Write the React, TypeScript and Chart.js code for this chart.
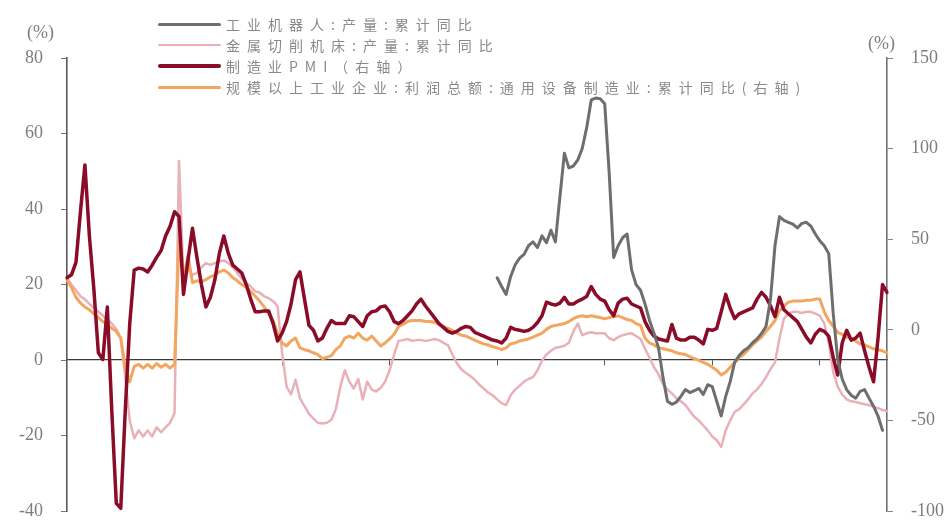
import React, { useEffect, useRef } from "react";
import Chart from "chart.js/auto";

// Monthly categories, 2008-01 .. 2023-04
const startYear = 2008;
const monthCount = 184;
const months: string[] = [];
for (let i = 0; i < monthCount; i++) {
  const y = startYear + Math.floor(i / 12);
  const m = (i % 12) + 1;
  months.push(`${y}-${String(m).padStart(2, "0")}`);
}

const seriesNames = [
  "工业机器人:产量:累计同比",
  "金属切削机床:产量:累计同比",
  "制造业PMI（右轴）",
  "规模以上工业企业:利润总额:通用设备制造业:累计同比(右轴)",
];

const seriesColors = ["#6e6e6e", "#e9b0b8", "#8a0c28", "#f2a660"];
const seriesWidths = [3, 2.5, 3.5, 3];

// Left axis (%)
const leftTicks = [80, 60, 40, 20, 0, -20, -40];
// Right axis (%)
const rightTicks = [150, 100, 50, 0, -50, -100];

// 工业机器人:产量:累计同比 — from 2016-01 to 2023-03 (left axis)
const robotOutput: (number | null)[] = [
  21.8, 19.5, 17.4, 22.1, 25.2, 27.0, 28.0, 30.3, 31.3, 29.8, 32.9, 31.1,
  34.4, 31.3, 43.2, 54.8, 50.9, 51.4, 53.0, 56.1, 61.7, 68.9, 69.4, 69.2,
  67.9, 49.6, 27.2, 30.3, 32.4, 33.4, 23.9, 20.0, 18.5, 14.9, 10.5, 7.1,
  3.3, -4.5, -10.9, -11.7, -11.1, -9.6, -7.8, -8.6, -8.1, -7.5, -9.1, -6.5,
  -7.0, -10.9, -14.8, -9.6, -5.7, -0.6, 1.2, 2.5, 3.3, 4.6, 5.6, 7.1,
  8.9, 16.1, 30.3, 38.0, 37.0, 36.5, 36.0, 35.0, 36.2, 36.5, 35.5, 33.4,
  31.6, 30.3, 28.2, 12.3, 0.2, -5.0, -7.8, -9.3, -10.1, -8.3, -7.8, -10.1,
  -12.2, -14.8, -18.6, null,
];
const robotStartIndex = 96;

// 金属切削机床:产量:累计同比 (left axis)
const machineToolOutput = [
  21.6, 20.0, 18.5, 16.9, 16.1, 14.9, 13.8, 12.8, 11.8, 10.7, 9.7, 8.2,
  5.8, -4.5, -16.0, -20.7, -18.6, -20.2, -18.6, -20.2, -17.8, -19.1, -17.8, -16.6,
  -14.0, 52.7, 21.3, 23.9, 22.6, 23.1, 24.6, 25.7, 25.2, 25.7, 26.2, 26.4,
  25.7, 24.6, 23.1, 21.6, 20.5, 19.5, 18.2, 17.9, 16.9, 16.4, 15.6, 14.3,
  2.0, -7.0, -9.1, -5.2, -10.1, -12.2, -14.2, -15.5, -16.6, -16.8, -16.6, -15.8,
  -13.0, -7.0, -2.7, -5.7, -7.5, -5.0, -10.4, -5.7, -7.8, -8.3, -7.3, -5.7,
  -2.7, 1.5, 5.1, 5.3, 5.6, 5.1, 5.3, 5.3, 5.1, 5.3, 5.6, 5.3,
  4.6, 4.0, 1.5, -0.8, -2.4, -3.4, -4.2, -5.2, -6.5, -7.5, -8.6, -9.3,
  -10.4, -11.4, -11.9, -9.3, -7.8, -6.8, -5.7, -5.0, -4.5, -2.7, -0.1, 1.5,
  2.5, 3.3, 3.5, 3.8, 4.6, 7.6, 9.7, 6.6, 7.1, 7.4, 7.1, 7.1,
  7.1, 5.8, 5.3, 6.1, 6.6, 6.9, 7.1, 6.4, 5.6, 3.0, 0.7, -1.9,
  -3.7, -6.3, -7.8, -8.8, -10.1, -10.9, -11.9, -13.5, -15.0, -16.0, -17.3, -18.6,
  -20.2, -21.2, -23.0, -18.6, -16.0, -13.7, -13.0, -11.7, -10.4, -8.8, -7.8, -6.3,
  -4.5, -2.4, -0.6, 5.8, 11.0, 12.3, 12.8, 12.8, 12.5, 12.8, 12.8, 12.3,
  11.8, 9.7, 4.6, -3.2, -7.0, -9.1, -10.4, -10.9, -11.1, -11.4, -11.7, -11.9,
  -12.4, -12.7, -13.2, -13.5,
];

// 制造业PMI (right axis)
const pmiSeries = [
  28.8, 30.4, 37.3, 65.2, 91.0, 51.8, 22.3, -12.6, -16.3, 12.7, -44.7, -95.7,
  -98.4, -44.7, 3.5, 33.0, 34.1, 33.6, 32.0, 35.7, 40.0, 43.8, 51.8, 57.2,
  65.2, 62.6, 19.6, 38.4, 56.1, 40.0, 25.0, 12.7, 18.0, 27.7, 42.2, 51.8,
  42.2, 35.7, 33.6, 31.4, 25.0, 17.0, 10.0, 10.0, 10.5, 10.5, 3.5, -6.1,
  -1.8, 4.6, 14.3, 27.7, 32.0, 17.0, 2.5, -0.2, -6.1, -4.5, 0.9, 5.2,
  3.5, 3.5, 3.5, 7.8, 7.3, 4.6, 1.9, 7.8, 10.0, 10.5, 12.7, 13.2,
  10.0, 4.6, 3.5, 5.2, 7.8, 10.5, 14.3, 17.0, 13.2, 10.0, 6.8, 3.5,
  1.4, -0.8, -1.8, -0.8, 0.9, 1.9, 1.4, -1.3, -2.4, -3.4, -4.5, -5.6,
  -6.1, -7.2, -4.5, 1.4, 0.3, -0.2, -0.8, -0.2, 1.4, 4.1, 7.8, 15.3,
  14.3, 13.7, 14.8, 18.0, 14.3, 14.3, 15.9, 17.0, 18.6, 23.9, 19.6, 17.0,
  15.9, 11.1, 7.8, 14.8, 17.0, 17.5, 14.3, 13.2, 12.1, 4.6, -0.2, -3.4,
  -5.0, -5.6, -6.1, 3.0, -4.5, -5.6, -5.6, -4.0, -4.0, -5.6, -7.7, 0.3,
  -0.2, 0.9, 10.0, 19.6, 12.1, 6.2, 8.9, 10.0, 11.1, 12.1, 17.0, 20.7,
  18.0, 13.2, 7.3, 18.0, 11.1, 8.9, 6.8, 4.6, 0.3, -4.0, -7.2, -2.4,
  0.3, -0.8, -3.4, -15.2, -24.9, -7.2, -0.2, -5.6, -4.5, -1.8, -11.5, -20.6,
  -28.6, -4.5, 25.0, 20.7,
];

// 通用设备制造业利润总额累计同比 (right axis)
const equipmentProfit = [
  27.7, 23.4, 18.0, 14.8, 12.7, 11.1, 8.9, 6.8, 4.6, 3.0, 0.9, -0.8,
  -4.5, -20.6, -28.6, -20.1, -19.0, -21.1, -19.0, -21.1, -18.5, -20.6, -19.0, -21.1,
  -19.0, 49.1, 27.7, 41.1, 26.1, 27.1, 26.6, 27.7, 29.3, 30.4, 32.0, 33.0,
  31.4, 28.8, 27.1, 25.0, 23.4, 21.2, 18.6, 15.9, 12.7, 8.9, 5.2, -1.8,
  -7.2, -8.8, -6.1, -4.5, -9.9, -10.9, -11.5, -12.6, -13.6, -15.8, -15.2, -14.2,
  -10.9, -8.8, -4.5, -3.4, -4.5, -1.8, -4.5, -5.6, -3.4, -6.1, -8.8, -7.2,
  -5.0, -2.4, 1.9, 3.0, 4.6, 5.2, 5.2, 5.2, 4.6, 4.6, 4.1, 3.0,
  1.9, 0.9, -0.2, -1.8, -2.9, -3.4, -4.5, -5.6, -6.7, -7.7, -8.3, -9.3,
  -9.9, -10.9, -9.9, -7.7, -7.2, -6.1, -5.6, -5.0, -4.0, -2.9, -1.8, 0.3,
  1.9, 2.5, 3.0, 3.5, 4.6, 6.2, 7.3, 7.8, 7.3, 7.8, 7.3, 6.8,
  6.2, 6.8, 7.3, 7.8, 6.8, 5.7, 5.2, 3.5, 2.5, -4.5, -7.2, -8.3,
  -9.9, -10.4, -10.9, -11.5, -12.6, -13.1, -13.6, -14.7, -15.8, -16.8, -17.9, -19.0,
  -20.6, -22.2, -24.9, -23.3, -20.6, -17.9, -15.2, -13.6, -10.9, -8.3, -6.1, -4.0,
  -0.8, 1.9, 5.2, 10.5, 13.2, 15.3, 15.9, 15.9, 15.9, 16.4, 16.4, 17.0,
  17.0, 10.0, 5.2, 1.9, -1.3, -2.4, -4.0, -5.0, -6.1, -7.7, -8.3, -9.3,
  -10.4, -10.9, -11.5, -12.6,
];

const robotSeries: (number | null)[] = new Array(robotStartIndex)
  .fill(null)
  .concat(robotOutput);

const serifFont = "'Liberation Serif', 'DejaVu Serif', 'Times New Roman', serif";
const cjkFont = "'Noto Sans CJK SC', 'Noto Sans', sans-serif";

export default function App() {
  const canvasRef = useRef<HTMLCanvasElement | null>(null);

  useEffect(() => {
    const canvas = canvasRef.current;
    if (!canvas) return;
    const chart = new Chart(canvas, {
      type: "line",
      data: {
        labels: months,
        datasets: [
          {
            label: seriesNames[0],
            data: robotSeries,
            yAxisID: "y",
            borderColor: seriesColors[0],
            borderWidth: seriesWidths[0],
            order: 0,
          },
          {
            label: seriesNames[1],
            data: machineToolOutput,
            yAxisID: "y",
            borderColor: seriesColors[1],
            borderWidth: seriesWidths[1],
            order: 3,
          },
          {
            label: seriesNames[2],
            data: pmiSeries,
            yAxisID: "y1",
            borderColor: seriesColors[2],
            borderWidth: seriesWidths[2],
            order: 1,
          },
          {
            label: seriesNames[3],
            data: equipmentProfit,
            yAxisID: "y1",
            borderColor: seriesColors[3],
            borderWidth: seriesWidths[3],
            order: 2,
          },
        ],
      },
      options: {
        animation: false,
        responsive: false,
        devicePixelRatio: 1,
        layout: { padding: { top: 58, bottom: 16, left: 0, right: 0 } },
        plugins: {
          legend: { display: false },
          tooltip: { enabled: false },
        },
        elements: {
          point: { radius: 0, hoverRadius: 0 },
          line: {
            tension: 0,
            fill: false,
            borderJoinStyle: "round",
            borderCapStyle: "round",
            spanGaps: false,
          },
        },
        scales: {
          x: {
            type: "category",
            position: { y: 0 },
            ticks: { display: false },
            grid: {
              drawOnChartArea: false,
              drawTicks: true,
              tickLength: 5,
              color: "#555",
              lineWidth: 1,
            },
            border: { display: true, color: "#3c3c3c", width: 1.3 },
            afterBuildTicks: (scale: any) => {
              scale.ticks = scale.ticks.filter(
                (t: any) => t.value > 0 && t.value % 24 === 0
              );
            },
          },
          y: {
            position: "left",
            min: leftTicks[leftTicks.length - 1],
            max: leftTicks[0],
            afterBuildTicks: (scale: any) => {
              scale.ticks = leftTicks.map((v) => ({ value: v }));
            },
            ticks: {
              color: "#7d7d7d",
              padding: 18,
              font: { family: serifFont, size: 18 },
            },
            grid: {
              drawOnChartArea: false,
              drawTicks: true,
              tickLength: 6,
              color: "#777",
            },
            border: { display: true, color: "#595959", width: 1.6 },
            afterFit: (scale: any) => {
              scale.width = 67;
            },
          },
          y1: {
            position: "right",
            min: rightTicks[rightTicks.length - 1],
            max: rightTicks[0],
            afterBuildTicks: (scale: any) => {
              scale.ticks = rightTicks.map((v) => ({ value: v }));
            },
            ticks: {
              color: "#7d7d7d",
              padding: 18,
              font: { family: serifFont, size: 18 },
            },
            grid: {
              drawOnChartArea: false,
              drawTicks: true,
              tickLength: 6,
              color: "#888",
            },
            border: { display: true, color: "#707070", width: 1.6 },
            afterFit: (scale: any) => {
              scale.width = 62;
            },
          },
        },
      },
    } as any);
    return () => chart.destroy();
  }, []);

  const legendRowY = [24, 45, 66, 87];

  return (
    <div
      style={{
        position: "fixed",
        left: 0,
        top: 0,
        width: 949,
        height: 529,
        overflow: "hidden",
        background: "#ffffff",
      }}
    >
      <canvas
        ref={canvasRef}
        width={949}
        height={540}
        style={{ position: "absolute", left: 0, top: 0, width: 949, height: 540 }}
      />
      <span
        style={{
          position: "absolute",
          left: 27,
          top: 20,
          font: `18px ${serifFont}`,
          color: "#7d7d7d",
          lineHeight: "24px",
        }}
      >
        (%)
      </span>
      <span
        style={{
          position: "absolute",
          left: 868,
          top: 31,
          font: `18px ${serifFont}`,
          color: "#7d7d7d",
          lineHeight: "24px",
        }}
      >
        (%)
      </span>
      {seriesNames.map((name, i) => (
        <div key={name}>
          <div
            style={{
              position: "absolute",
              left: 158,
              width: 63,
              top: legendRowY[i] - seriesWidths[i] / 2,
              height: seriesWidths[i],
              background: seriesColors[i],
              borderRadius: 2,
            }}
          />
          <span
            style={{
              position: "absolute",
              left: 226,
              top: legendRowY[i] - 10,
              font: `14px ${cjkFont}`,
              lineHeight: "20px",
              letterSpacing: "7px",
              color: "#8a8a8a",
              whiteSpace: "nowrap",
            }}
          >
            {name}
          </span>
        </div>
      ))}
    </div>
  );
}
